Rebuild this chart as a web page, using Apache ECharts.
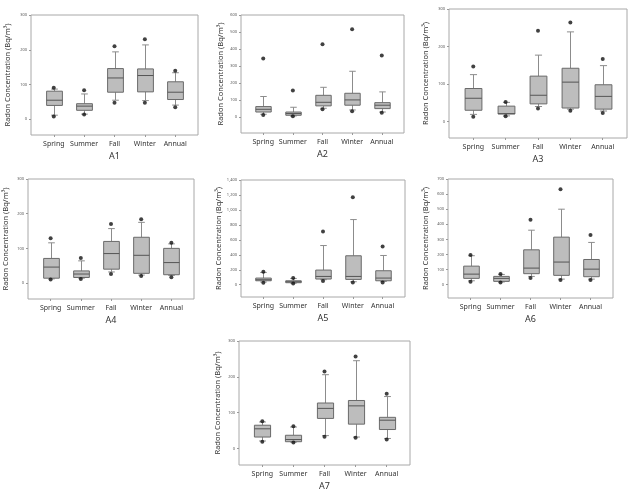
<!DOCTYPE html>
<html>
<head>
<meta charset="utf-8">
<script src="https://cdn.jsdelivr.net/npm/echarts@6/dist/echarts.min.js"></script>
<style>
html,body{margin:0;padding:0;background:#fff;}
#chart{width:629px;height:492px;}
</style>
</head>
<body>
<div id="chart"></div>
<script>
// ---------- data ----------
const categories = ['Spring', 'Summer', 'Fall', 'Winter', 'Annual'];
const panelNames = ['A1', 'A2', 'A3', 'A4', 'A5', 'A6', 'A7'];
const yAxisTitle = 'Radon Concentration (Bq/m\u00B3)';

// each box: [lower whisker, Q1, median, Q3, upper whisker]
// each outlier pair: [low point, high point]
const a1Box = [[12, 40, 55, 81, 87], [15, 26, 38, 45, 73], [55, 78, 119, 146, 194], [54, 79, 126, 145, 214], [41, 57, 78, 108, 134]];
const a1Out = [[8, 91], [14, 84], [48, 210], [48, 230], [35, 140]];
const a1Ticks = [0, 100, 200, 300];

const a2Box = [[18, 31, 47, 63, 122], [8, 12, 22, 31, 59], [53, 67, 88, 129, 176], [43, 71, 102, 141, 270], [31, 51, 71, 86, 149]];
const a2Out = [[14, 345], [6, 157], [47, 429], [35, 516], [27, 363]];
const a2Ticks = [0, 100, 200, 300, 400, 500, 600];

const a3Box = [[19, 30, 62, 88, 125], [15, 20, 21, 41, 51], [40, 47, 70, 121, 177], [33, 36, 105, 142, 239], [28, 33, 67, 98, 149]];
const a3Out = [[13, 147], [14, 52], [35, 242], [29, 264], [23, 167]];
const a3Ticks = [0, 100, 200, 300];

const a4Box = [[12, 14, 46, 71, 116], [14, 16, 26, 35, 64], [32, 40, 85, 120, 157], [23, 28, 80, 132, 175], [22, 24, 59, 100, 113]];
const a4Out = [[10, 129], [12, 72], [26, 170], [20, 184], [17, 116]];
const a4Ticks = [0, 100, 200, 300];

const a5Box = [[36, 53, 67, 89, 164], [22, 27, 40, 53, 84], [67, 76, 111, 196, 524], [40, 71, 111, 387, 871], [44, 53, 89, 187, 391]];
const a5Out = [[27, 173], [18, 89], [49, 711], [31, 1169], [31, 511]];
const a5Ticks = [0, 200, 400, 600, 800, 1000, 1200, 1400];

const a6Box = [[26, 42, 70, 123, 192], [18, 22, 42, 55, 68], [55, 73, 110, 231, 361], [37, 62, 150, 315, 500], [37, 53, 103, 167, 280]];
const a6Out = [[20, 196], [15, 71], [44, 430], [31, 632], [31, 330]];
const a6Ticks = [0, 100, 200, 300, 400, 500, 600, 700];

const a7Box = [[21, 32, 55, 65, 74], [18, 19, 25, 37, 60], [36, 84, 112, 127, 206], [32, 68, 119, 134, 245], [28, 53, 79, 87, 145]];
const a7Out = [[19, 76], [17, 62], [33, 215], [30, 257], [25, 153]];
const a7Ticks = [0, 100, 200, 300];

const boxes = [a1Box, a2Box, a3Box, a4Box, a5Box, a6Box, a7Box];
const outliers = [a1Out, a2Out, a3Out, a4Out, a5Out, a6Out, a7Out];
const ticks = [a1Ticks, a2Ticks, a3Ticks, a4Ticks, a5Ticks, a6Ticks, a7Ticks];

// ---------- layout (pixels) ----------
const frames = [
  {left: 31, top: 15, width: 167, height: 120, yMin: -45, yMax: 300, gap: 19},
  {left: 241, top: 15, width: 163, height: 118, yMin: -92, yMax: 600, gap: 16},
  {left: 449, top: 9, width: 178, height: 129, yMin: -44, yMax: 300, gap: 19},
  {left: 28, top: 179, width: 166, height: 120, yMin: -46, yMax: 300, gap: 18},
  {left: 241, top: 180, width: 164, height: 117, yMin: -164, yMax: 1400, gap: 18},
  {left: 448, top: 179, width: 165, height: 119, yMin: -88, yMax: 700, gap: 18},
  {left: 239, top: 341, width: 171, height: 125, yMin: -46, yMax: 300, gap: 17}
];

const FONT = 'Noto Sans';

function renderBox(params, api) {
  const x = api.value(0);
  const lo = api.value(1), q1 = api.value(2), md = api.value(3), q3 = api.value(4), hi = api.value(5);
  const unit = api.size([1, 0])[0];
  const hw = unit * 0.26, cw = unit * 0.11;
  const pLo = api.coord([x, lo]), pQ1 = api.coord([x, q1]), pMd = api.coord([x, md]);
  const pQ3 = api.coord([x, q3]), pHi = api.coord([x, hi]);
  const cx = Math.round(pLo[0]) + 0.5;
  const wStyle = {stroke: '#8c8c8c', lineWidth: 1};
  return {
    type: 'group',
    children: [
      {type: 'line', shape: {x1: cx, y1: pHi[1], x2: cx, y2: pQ3[1]}, style: wStyle},
      {type: 'line', shape: {x1: cx, y1: pLo[1], x2: cx, y2: pQ1[1]}, style: wStyle},
      {type: 'line', shape: {x1: cx - cw, y1: pHi[1], x2: cx + cw, y2: pHi[1]}, style: wStyle},
      {type: 'line', shape: {x1: cx - cw, y1: pLo[1], x2: cx + cw, y2: pLo[1]}, style: wStyle},
      {type: 'rect', shape: {x: cx - hw, y: pQ3[1], width: 2 * hw, height: pQ1[1] - pQ3[1]},
        style: {fill: '#bdbdbd', stroke: '#6a6a6a', lineWidth: 1}},
      {type: 'line', shape: {x1: cx - hw, y1: pMd[1], x2: cx + hw, y2: pMd[1]},
        style: {stroke: '#555', lineWidth: 1}}
    ]
  };
}

const grid = [], xAxis = [], yAxis = [], series = [];
frames.forEach((f, i) => {
  grid.push({left: f.left, top: f.top, width: f.width, height: f.height,
    show: true, borderColor: '#a8a8a8', borderWidth: 1, backgroundColor: 'transparent'});
  xAxis.push({
    type: 'value', gridIndex: i, min: 0.25, max: 5.75, position: 'bottom',
    name: panelNames[i], nameLocation: 'middle', nameGap: 17,
    nameTextStyle: {fontFamily: FONT, fontSize: 9, color: '#333'},
    axisLine: {show: false, onZero: false}, splitLine: {show: false},
    axisTick: {show: true, customValues: [1, 2, 3, 4, 5], length: 2, lineStyle: {color: '#999'}},
    axisLabel: {customValues: [1, 2, 3, 4, 5], margin: 5, fontFamily: FONT, fontSize: 7, color: '#333',
      formatter: v => categories[Math.round(v) - 1] || ''}
  });
  yAxis.push({
    type: 'value', gridIndex: i, min: f.yMin, max: f.yMax, position: 'left',
    name: yAxisTitle, nameLocation: 'middle', nameRotate: 90, nameGap: f.gap,
    nameTextStyle: {fontFamily: FONT, fontSize: 7.5, color: '#333'},
    axisLine: {show: false, onZero: false}, splitLine: {show: false},
    axisTick: {show: true, customValues: ticks[i], length: 2, lineStyle: {color: '#999'}},
    axisLabel: {customValues: ticks[i], margin: 4, fontFamily: FONT, fontSize: 4, color: '#555'}
  });
  const boxData = boxes[i].map((b, k) => [k + 1].concat(b));
  const outData = [];
  outliers[i].forEach((o, k) => { outData.push([k + 1, o[0]]); outData.push([k + 1, o[1]]); });
  series.push({
    type: 'custom', xAxisIndex: i, yAxisIndex: i, renderItem: renderBox,
    encode: {x: 0, y: [1, 2, 3, 4, 5]}, data: boxData, silent: true
  });
  series.push({
    type: 'scatter', xAxisIndex: i, yAxisIndex: i, data: outData,
    symbol: 'circle', symbolSize: 4, itemStyle: {color: '#111'}, silent: true, z: 5
  });
});

const chart = echarts.init(document.getElementById('chart'), null, {renderer: 'canvas'});
chart.setOption({
  backgroundColor: '#fff',
  animation: false,
  grid, xAxis, yAxis, series
});
</script>
</body>
</html>
